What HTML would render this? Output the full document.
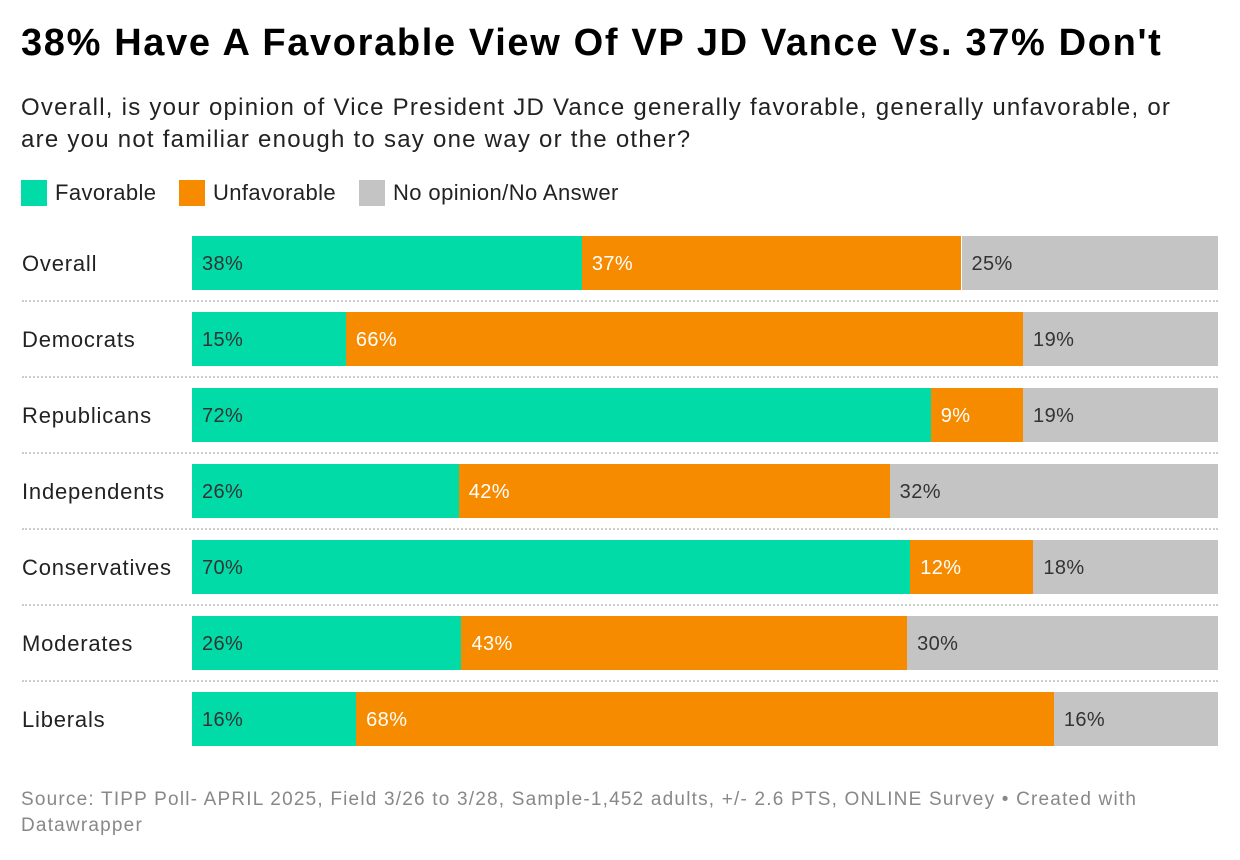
<!DOCTYPE html>
<html><head><meta charset="utf-8">
<style>
body{margin:0;background:#fff;font-family:"Liberation Sans",sans-serif;}
#root{position:relative;width:1240px;height:860px;overflow:hidden;}
.title{position:absolute;left:21px;top:22px;font-size:38px;font-weight:bold;color:#000;letter-spacing:1.65px;white-space:nowrap;}
.sub{position:absolute;left:21px;top:92px;font-size:24px;line-height:32px;color:#222;width:1180px;letter-spacing:1.25px;}
.legend{position:absolute;top:180px;font-size:22px;color:#222;display:flex;align-items:center;letter-spacing:0.4px;}
.sw{display:inline-block;width:26px;height:26px;margin-right:8px;}
.rowlab{position:absolute;left:22px;font-size:22px;color:#222;letter-spacing:0.8px;}
.seg{position:absolute;height:54px;}
.val{position:absolute;font-size:20px;line-height:54px;letter-spacing:0.4px;}
.sep{position:absolute;left:22px;width:1196px;border-top:2px dotted #ccc;}
.src{position:absolute;left:21px;top:787px;font-size:19px;line-height:26px;color:#888;width:1140px;letter-spacing:1.2px;}
</style></head><body>
<div id="root">
<div class="title">38% Have A Favorable View Of VP JD Vance Vs. 37% Don't</div>
<div class="sub">Overall, is your opinion of Vice President JD Vance generally favorable, generally unfavorable, or are you not familiar enough to say one way or the other?</div>
<div class="legend" style="left:21px"><span class="sw" style="background:#00dba8"></span>Favorable</div>
<div class="legend" style="left:179px"><span class="sw" style="background:#f78b00"></span>Unfavorable</div>
<div class="legend" style="left:359px"><span class="sw" style="background:#c4c4c4"></span>No opinion/No Answer</div>
<div id="plot"></div>
<div class="src">Source: TIPP Poll- APRIL 2025, Field 3/26 to 3/28, Sample-1,452 adults, +/- 2.6 PTS, ONLINE Survey • Created with Datawrapper</div>
</div>
<script>
const categories=["Overall","Democrats","Republicans","Independents","Conservatives","Moderates","Liberals"];
const favorable=[38,15,72,26,70,26,16];
const unfavorable=[37,66,9,42,12,43,68];
const noOpinion=[25,19,19,32,18,30,16];
const x0=192,x1=1218,y0=236,step=76;
const colors=["#00dba8","#f78b00","#c4c4c4"];
const txt=["#333","#fff","#333"];
const names=["favorable","unfavorable","no-opinion"];
const plot=document.getElementById('plot');
categories.forEach((c,i)=>{
  const y=y0+i*step;
  const lab=document.createElement('div');
  lab.className='rowlab';lab.style.top=(y+15)+'px';lab.textContent=c;
  
  
  plot.appendChild(lab);
  const vals=[favorable[i],unfavorable[i],noOpinion[i]];
  const tot=vals[0]+vals[1]+vals[2];
  let acc=0;
  vals.forEach((v,k)=>{
    const xa=x0+(x1-x0)*acc/tot; acc+=v;
    const xb=x0+(x1-x0)*acc/tot;
    const s=document.createElement('div');
    s.className='seg';
    s.style.left=xa+'px';s.style.top=y+'px';s.style.width=(xb-xa)+'px';s.style.background=colors[k];
    
    
    plot.appendChild(s);
    const t=document.createElement('div');
    t.className='val';t.style.left=(xa+10)+'px';t.style.top=(y+1)+'px';t.style.color=txt[k];
    t.textContent=v+'%';
    
    
    plot.appendChild(t);
  });
  if(i<categories.length-1){
    const sp=document.createElement('div');
    sp.className='sep';sp.style.top=(y+64)+'px';
    
    
    plot.appendChild(sp);
  }
});
</script>
</body></html>
